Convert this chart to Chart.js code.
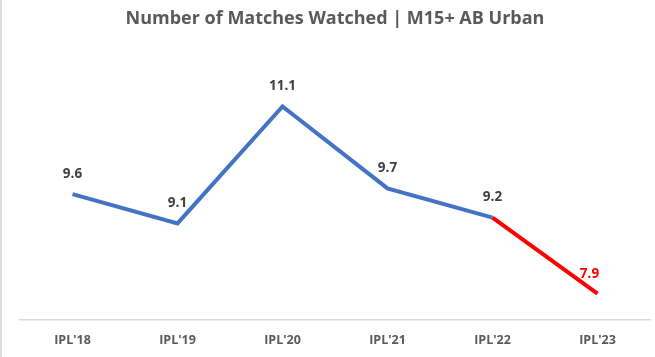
<!DOCTYPE html>
<html>
<head>
<meta charset="utf-8">
<script src="https://cdn.jsdelivr.net/npm/chart.js@4/dist/chart.umd.min.js"></script>
<style>
  html, body { margin: 0; padding: 0; background: #fff; }
  #wrap { position: relative; width: 653px; height: 357px; border-left: 2px solid #dcdcdc; }
</style>
</head>
<body>
<div id="wrap"><canvas id="c" width="653" height="357"></canvas></div>
<script>
const categories = ["IPL'18", "IPL'19", "IPL'20", "IPL'21", "IPL'22", "IPL'23"];
const matchesWatched = [9.6, 9.1, 11.1, 9.7, 9.2, 7.9];
const titleText = "Number of Matches Watched | M15+ AB Urban";

const FONT = "'Open Sans', sans-serif";
const BLUE = "#4472C4";
const RED = "#FF0000";
const LABEL = "#404040";
const lastIdx = matchesWatched.length - 1;

const labelPlugin = {
  id: 'valueLabels',
  afterDatasetsDraw(chart) {
    const ctx = chart.ctx;
    const meta = chart.getDatasetMeta(0);
    ctx.save();
    ctx.font = "bold 13.5px " + FONT;
    ctx.textAlign = 'center';
    ctx.textBaseline = 'middle';
    meta.data.forEach((pt, i) => {
      const isLast = i === lastIdx;
      ctx.fillStyle = isLast ? RED : LABEL;
      const dx = isLast ? -8 : 0;
      ctx.fillText(matchesWatched[i].toFixed(1), pt.x + dx, pt.y - 20);
    });
    ctx.restore();
  }
};

new Chart(document.getElementById('c'), {
  type: 'line',
  data: {
    labels: categories,
    datasets: [{
      data: matchesWatched,
      borderColor: BLUE,
      borderWidth: 4,
      pointRadius: 0,
      tension: 0,
      fill: false,
      segment: {
        borderColor: c => (c.p1DataIndex === lastIdx ? RED : BLUE)
      }
    }]
  },
  options: {
    responsive: false,
    animation: false,
    layout: { padding: { left: 18, right: 5, top: 0, bottom: -4 } },
    plugins: {
      legend: { display: false },
      tooltip: { enabled: false },
      title: {
        display: true,
        text: titleText,
        color: '#595959',
        font: { family: FONT, size: 18, weight: 'bold' },
        padding: { top: 8, bottom: 30 }
      }
    },
    scales: {
      x: {
        offset: true,
        grid: { display: false, drawTicks: false },
        border: { display: true, color: '#D9D9D9', width: 1.5 },
        ticks: { color: '#595959', font: { family: FONT, size: 12.5, weight: 'bold' }, padding: 13 }
      },
      y: {
        display: false,
        min: 7.45,
        max: 11.9
      }
    }
  },
  plugins: [labelPlugin]
});
</script>
</body>
</html>
